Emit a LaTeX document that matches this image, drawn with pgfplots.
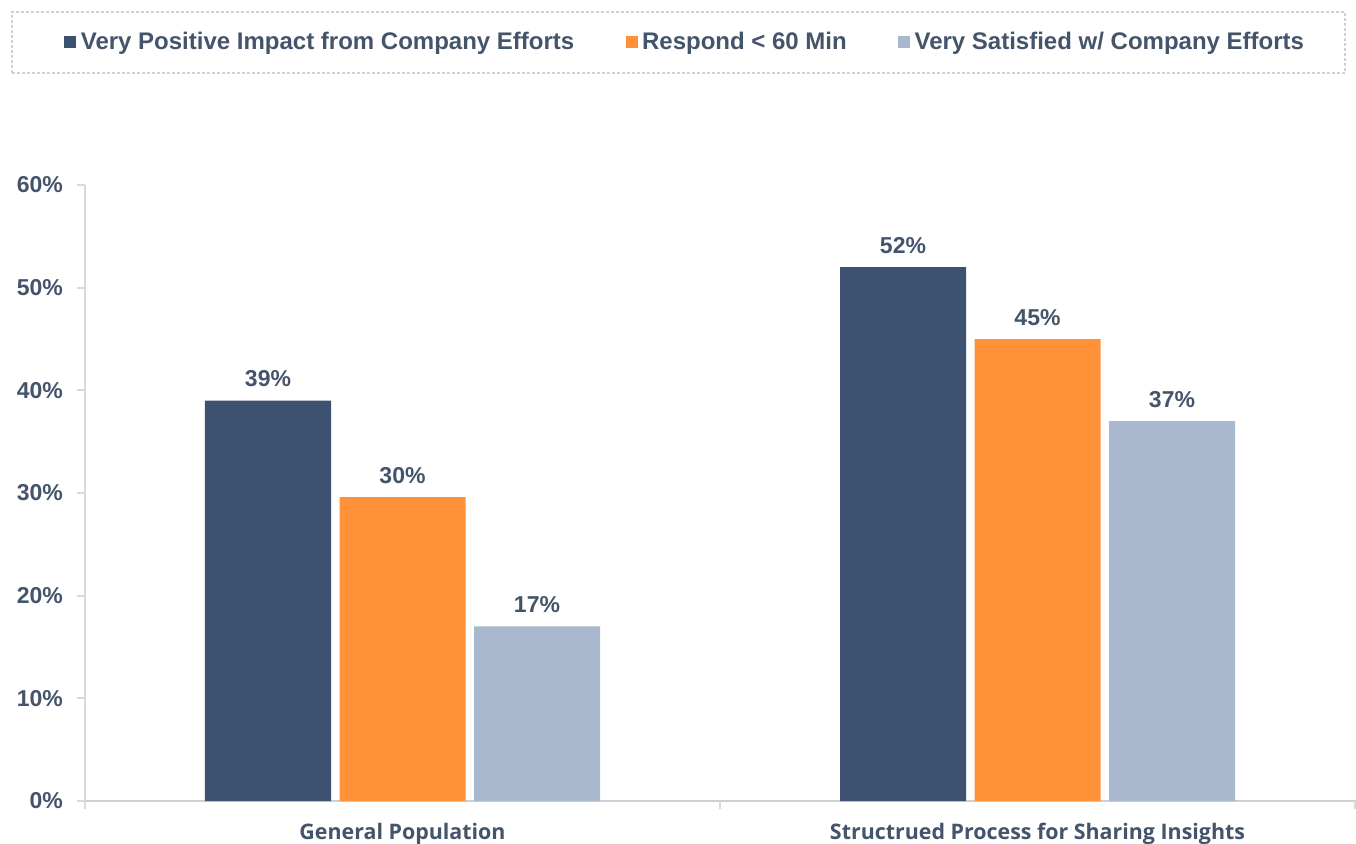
\documentclass[border=0pt]{standalone}
\usepackage{fontspec}
\setmainfont{Liberation Sans}
\newfontfamily\catfont{Open Sans}
\usepackage{pgfplots}
\pgfplotsset{compat=1.18}
\definecolor{txt}{HTML}{44546A}
\definecolor{c1}{HTML}{3D5170}
\definecolor{c2}{HTML}{FF9138}
\definecolor{c3}{HTML}{A7B8CF}
\definecolor{axgray}{HTML}{D9D9D9}
\definecolor{xgray}{HTML}{CFCFCF}
\begin{document}
\begin{tikzpicture}[x=1pt,y=1pt]
\draw[draw=black!18, dash pattern=on 1.5pt off 1pt, line width=0.6pt] (6,385) rectangle (672.5,415.5);
\begin{axis}[
  at={(42.5pt,21pt)}, anchor=south west,
  scale only axis, width=635pt, height=308pt,
  ybar=4.25pt, bar width=63pt,
  xmin=-0.5, xmax=1.5, ymin=0, ymax=60,
  axis x line*=bottom, axis y line*=left,
  x axis line style={xgray, line width=1.2pt, -, shorten >=-2pt},
  y axis line style={axgray, line width=1pt, -},
  tick align=outside, major tick length=4pt,
  /pgf/number format/assume math mode=true,
  ytick={0,10,...,60},
  yticklabel={\pgfmathprintnumber{\tick}\%},
  yticklabel style={font=\bfseries\fontsize{11.5}{13}\selectfont, text=txt, xshift=-3.5pt},
  ytick style={axgray, line width=1pt},
  xtick={0,1},
  xticklabels={General Population, Structrued Process for Sharing Insights},
  xticklabel style={font=\catfont\bfseries\fontsize{10.7}{12}\selectfont, text=txt, yshift=-3.5pt},
  xtick style={draw=none},
  extra x ticks={-0.5,0.5,1.5},
  extra x tick labels={},
  extra x tick style={xtick style={draw=axgray, line width=1pt}},
  nodes near coords={\pgfmathprintnumber[fixed,precision=0]{\pgfplotspointmeta}\%},
  nodes near coords style={font=\bfseries\fontsize{11.5}{13}\selectfont, text=txt, inner sep=0pt, anchor=south, yshift=6.5pt},
  legend columns=3,
  legend image code/.code={\fill[#1] (0pt,-3pt) rectangle (6pt,3pt);},
  legend style={at={(-0.0165,1.232)}, anchor=west, draw=none, fill=none, inner sep=0pt,
    font=\bfseries\fontsize{12}{14}\selectfont, text=txt,
    /tikz/every even column/.append style={column sep=23.5pt},
    nodes={inner xsep=2.2pt}},
]
\addplot[fill=c1, draw=none] coordinates {(0,39) (1,52)};
\addplot[fill=c2, draw=none] coordinates {(0,29.6) (1,45)};
\addplot[fill=c3, draw=none] coordinates {(0,17) (1,37)};
\legend{Very Positive Impact from Company Efforts, Respond < 60 Min, Very Satisfied w/ Company Efforts}
\end{axis}
\pgfresetboundingbox
\path (0,0) rectangle (678,421.5);
\end{tikzpicture}
\end{document}
